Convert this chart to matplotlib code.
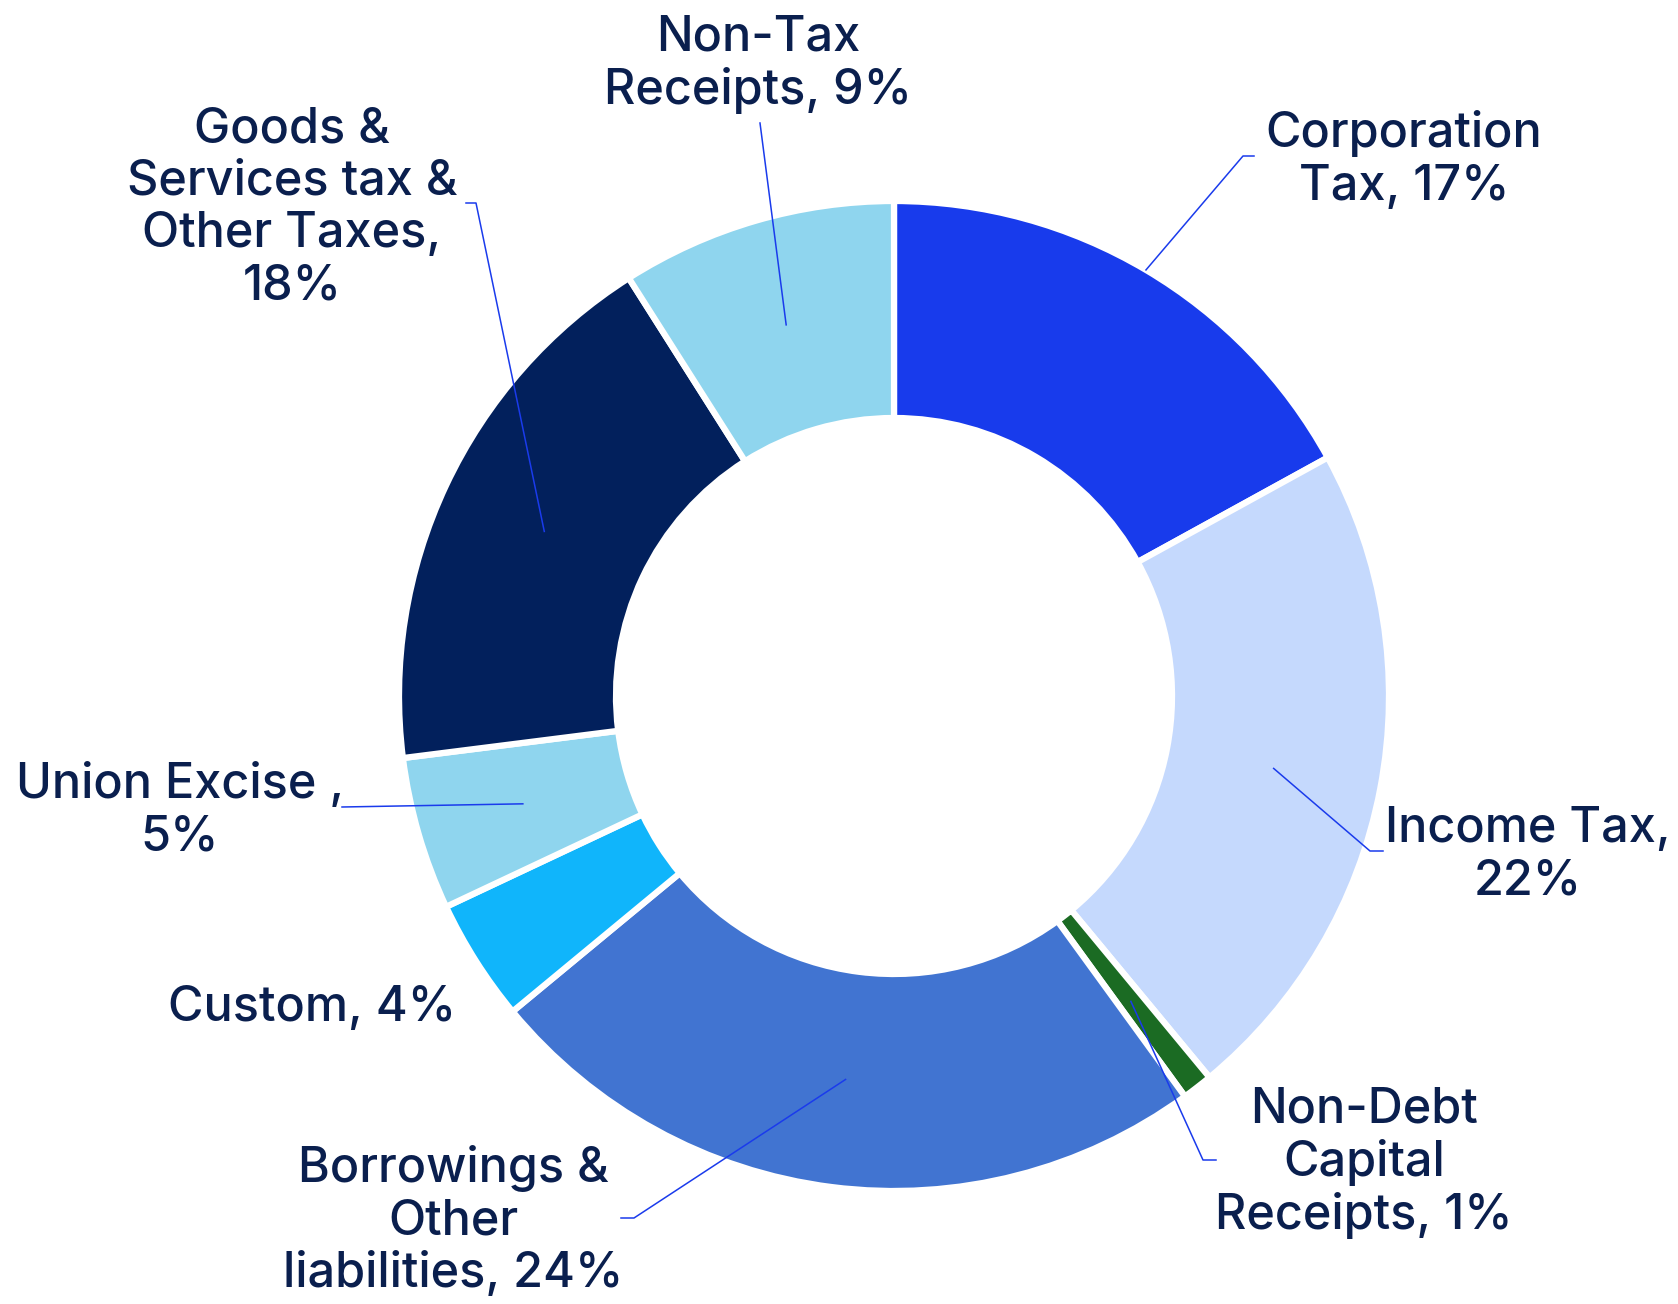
import numpy as np
import matplotlib.pyplot as plt

# receipts share (clockwise from 12 o'clock)
labels = ["Corporation\nTax, 17%", "Income Tax,\n22%", "Non-Debt\nCapital\nReceipts, 1%",
          "Borrowings &\nOther\nliabilities, 24%", "Custom, 4%", "Union Excise ,\n5%",
          "Goods &\nServices tax &\nOther Taxes,\n18%", "Non-Tax\nReceipts, 9%"]
shares = [17, 22, 1, 24, 4, 5, 18, 9]
colors = ["#183bec", "#c5d9fd", "#1b6b23", "#4174d1", "#10b5fb", "#8fd5ee", "#02205c", "#8fd5ee"]

# label placement in pixel coords (y down), leader elbow and stub end
text_pos = [(1404, 160), (1528, 855), (1364, 1163), (453, 1221), (312, 1008),
            (180, 811), (292, 208), (758, 64)]
elbow = [(1243, 156), (1370, 851), (1203, 1160), (634, 1218), None,
         (342, 807), (476, 203), (760, 123)]
stub = [(1254, 156), (1383, 851), (1216, 1160), (621, 1218), None,
        (342, 807), (466, 203), (760, 123)]

W, H = 1678, 1304
fig = plt.figure(figsize=(W / 100, H / 100), dpi=100)
ax = fig.add_axes([0, 0, 1, 1])

cx, cy = 894, H - 696
R, ring = 495, 217
wedges, _ = ax.pie(shares, colors=colors, startangle=90, counterclock=False,
                   center=(cx, cy), radius=R,
                   wedgeprops=dict(width=ring, edgecolor="white", linewidth=4.5))
ax.set_xlim(0, W)
ax.set_ylim(0, H)
ax.set_aspect("equal")
ax.axis("off")

txt_col = "#0a1f4e"
line_col = "#1a3bec"
for i, wdg in enumerate(wedges):
    tx, ty = text_pos[i]
    ax.text(tx, H - ty, labels[i], ha="center", va="center", fontsize=35,
            family="Inter", fontweight="medium", color=txt_col, linespacing=1.17)
    if elbow[i] is None:
        continue
    mid = np.deg2rad((wdg.theta1 + wdg.theta2) / 2)
    r0 = R if i == 0 else R - ring / 2
    x0, y0 = cx + r0 * np.cos(mid), cy + r0 * np.sin(mid)
    ex, ey = elbow[i]
    sx, sy = stub[i]
    ax.plot([x0, ex, sx], [y0, H - ey, H - sy], color=line_col, lw=1.1, zorder=5)

fig.savefig("out.png", dpi=100)
